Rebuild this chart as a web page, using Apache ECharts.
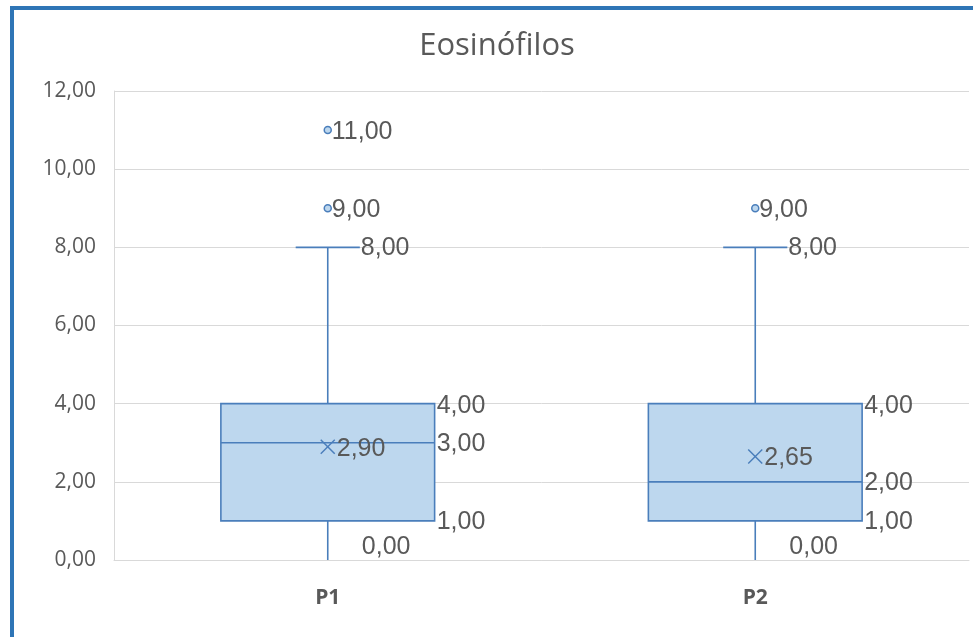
<!DOCTYPE html>
<html>
<head>
<meta charset="utf-8">
<script src="https://cdn.jsdelivr.net/npm/echarts@6/dist/echarts.min.js"></script>
<style>
  html, body { margin: 0; padding: 0; background: #fff; }
  #chart { width: 973px; height: 637px; }
</style>
</head>
<body>
<div id="chart"></div>
<script>
// Box-and-whisker summary per group
const categories = ['P1', 'P2'];
const minVals = [0, 0];
const q1Vals = [1, 1];
const medianVals = [3, 2];
const q3Vals = [4, 4];
const maxVals = [8, 8];
const meanVals = [2.90, 2.65];
// Outliers as [category index, value]
const outliers = [[0, 9], [0, 11], [1, 9]];
// Value axis range
const yMin = 0, yMax = 12, yStep = 2;

const BLUE = '#4A7EBB';
const FILL = '#BDD7EE';
const TEXT = '#595959';
const LABEL_FONT = '25px "Liberation Sans", Arial, sans-serif';

const fmt = v => v.toFixed(2).replace('.', ',');

const boxData = categories.map((c, i) =>
  [i, minVals[i], q1Vals[i], medianVals[i], q3Vals[i], maxVals[i]]);
const meanData = categories.map((c, i) => [i, meanVals[i]]);

function label(text, x, y, vAlign) {
  return {
    type: 'text',
    z2: 20,
    style: {
      text: text, x: x, y: y,
      align: 'left', verticalAlign: vAlign || 'middle',
      fill: TEXT, font: LABEL_FONT
    }
  };
}

function renderBox(params, api) {
  const i = api.value(0);
  const vals = [1, 2, 3, 4, 5].map(k => api.value(k));
  const cx = api.coord([i, 0])[0];
  const band = api.size([1, 0])[0];
  const half = band * 0.25;
  const cap = band * 0.075;
  const y = v => api.coord([i, v])[1];
  const [pMin, pQ1, pMed, pQ3, pMax] = vals.map(y);
  const line = { stroke: BLUE, lineWidth: 1.6 };
  return {
    type: 'group',
    children: [
      { type: 'line', shape: { x1: cx, y1: pQ3, x2: cx, y2: pMax }, style: line },
      { type: 'line', shape: { x1: cx, y1: pQ1, x2: cx, y2: pMin }, style: line },
      { type: 'line', shape: { x1: cx - cap, y1: pMax, x2: cx + cap, y2: pMax }, style: line },
      { type: 'rect', shape: { x: cx - half, y: pQ3, width: half * 2, height: pQ1 - pQ3 },
        style: { fill: FILL, stroke: BLUE, lineWidth: 1.6 } },
      { type: 'line', shape: { x1: cx - half, y1: pMed, x2: cx + half, y2: pMed }, style: line },
      label(fmt(vals[4]), cx + cap + 1, pMax + 1),
      label(fmt(vals[3]), cx + half + 2, pQ3 + 2),
      label(fmt(vals[2]), cx + half + 2, pMed + 1),
      label(fmt(vals[1]), cx + half + 2, pQ1 + 1),
      label(fmt(vals[0]), cx + cap + 2, pMin, 'bottom')
    ]
  };
}

function renderMean(params, api) {
  const p = api.coord([api.value(0), api.value(1)]);
  const s = 7;
  const line = { stroke: BLUE, lineWidth: 1.5 };
  return {
    type: 'group',
    children: [
      { type: 'line', shape: { x1: p[0] - s, y1: p[1] - s, x2: p[0] + s, y2: p[1] + s }, style: line },
      { type: 'line', shape: { x1: p[0] - s, y1: p[1] + s, x2: p[0] + s, y2: p[1] - s }, style: line },
      label(fmt(api.value(1)), p[0] + 9, p[1] + 2)
    ]
  };
}

function renderOutlier(params, api) {
  const p = api.coord([api.value(0), api.value(1)]);
  return {
    type: 'group',
    children: [
      { type: 'circle', shape: { cx: p[0], cy: p[1], r: 3.5 },
        style: { fill: FILL, stroke: BLUE, lineWidth: 1.5 } },
      label(fmt(api.value(1)), p[0] + 4, p[1] + 2)
    ]
  };
}

const chart = echarts.init(document.getElementById('chart'), null, { renderer: 'canvas' });
chart.setOption({
  animation: false,
  backgroundColor: '#fff',
  grid: { left: 114, right: 4, top: 91, bottom: 77, containLabel: false },
  graphic: [
    { type: 'line', shape: { x1: 12, y1: 6, x2: 12, y2: 637 },
      style: { stroke: '#2E75B6', lineWidth: 4 } },
    { type: 'line', shape: { x1: 10, y1: 8, x2: 973, y2: 8 },
      style: { stroke: '#2E75B6', lineWidth: 4 } },
    { type: 'text', x: 497, y: 46,
      style: { text: 'Eosinófilos', align: 'center', verticalAlign: 'middle',
               fill: TEXT, font: '31px "Open Sans", sans-serif' } }
  ],
  xAxis: {
    type: 'category',
    data: categories,
    axisLine: { show: true, lineStyle: { color: '#D9D9D9', width: 1 } },
    axisTick: { show: false },
    axisLabel: { color: TEXT, fontFamily: 'Open Sans', fontSize: 21, fontWeight: 'bold', margin: 28 },
    splitLine: { show: false }
  },
  yAxis: {
    type: 'value',
    min: yMin, max: yMax, interval: yStep,
    axisLine: { show: true, lineStyle: { color: '#D9D9D9', width: 1 } },
    axisTick: { show: false },
    axisLabel: { color: TEXT, fontFamily: 'Open Sans', fontSize: 21, margin: 18,
                 formatter: v => fmt(v) },
    splitLine: { lineStyle: { color: '#D9D9D9', width: 1 } }
  },
  series: [
    { type: 'custom', name: 'box', renderItem: renderBox, data: boxData,
      encode: { x: 0, y: [1, 2, 3, 4, 5] }, z: 2 },
    { type: 'custom', name: 'mean', renderItem: renderMean, data: meanData,
      encode: { x: 0, y: 1 }, z: 3 },
    { type: 'custom', name: 'outliers', renderItem: renderOutlier, data: outliers,
      encode: { x: 0, y: 1 }, z: 3 }
  ]
});
</script>
</body>
</html>
